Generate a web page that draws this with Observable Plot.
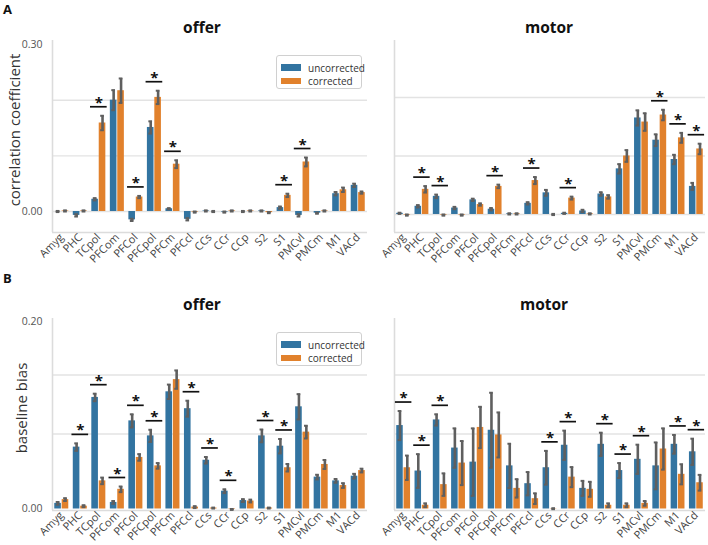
<!DOCTYPE html>
<html><head><meta charset="utf-8">
<script src="https://cdn.jsdelivr.net/npm/d3@7"></script>
<script src="https://cdn.jsdelivr.net/npm/@observablehq/plot@0.6"></script>
<style>
body{margin:0;background:#fff;font-family:"Open Sans",sans-serif;}
#root{position:relative;width:708px;height:545px;overflow:hidden;background:#fff;}
.pl{position:absolute;}
.ptitle{position:absolute;font-weight:bold;font-size:15.5px;color:#111;transform:translate(-50%,-50%);white-space:nowrap;}
.ylab{position:absolute;font-size:15px;color:#333;transform:translate(-50%,-50%) rotate(-90deg);white-space:nowrap;}
.letter{position:absolute;font-weight:bold;font-size:13px;color:#111;transform:translate(0,-50%);}
.legend{position:absolute;border:1px solid #d0d0d0;border-radius:3px;background:#fff;box-sizing:border-box;}
.legend .sw{position:absolute;width:20px;height:6.5px;}
.legend .lt{position:absolute;font-size:10px;color:#333;transform:translate(0,-50%);white-space:nowrap;}
</style></head>
<body><div id="root"></div>
<script>
// ---- data ----
const regions = ["Amyg","PHC","TCpol","PFCom","PFCol","PFCpol","PFCm","PFCcl","CCs","CCr","CCp","S2","S1","PMCvl","PMCm","M1","VACd"];
const series = ["uncorrected","corrected"];

// A: correlation coefficient, offer
const corrOfferUnc    = [0.000,-0.007,0.022,0.200,-0.015,0.151,0.005,-0.014,0.001,-0.001,0.000,0.001,0.007,-0.007,-0.003,0.032,0.047];
const corrOfferUncErr = [0.001,0.002,0.002,0.018,0.002,0.011,0.001,0.002,0.001,0.001,0.001,0.001,0.002,0.002,0.001,0.003,0.003];
const corrOfferCor    = [0.001,0.001,0.159,0.217,0.026,0.205,0.085,-0.001,0.000,0.001,0.001,-0.002,0.029,0.089,0.001,0.039,0.034];
const corrOfferCorErr = [0.001,0.001,0.013,0.022,0.002,0.012,0.007,0.001,0.001,0.001,0.001,0.001,0.003,0.008,0.001,0.004,0.002];
const sigCorrOffer = ["TCpol","PFCol","PFCpol","PFCm","S1","PMCvl"];

// A: correlation coefficient, motor
const corrMotorUnc    = [0.002,0.014,0.031,0.011,0.025,0.009,0.001,0.019,0.037,0.002,0.006,0.035,0.078,0.165,0.127,0.094,0.048];
const corrMotorUncErr = [0.001,0.002,0.003,0.002,0.002,0.002,0.001,0.002,0.005,0.001,0.002,0.003,0.008,0.013,0.010,0.008,0.006];
const corrMotorCor    = [-0.001,0.043,-0.001,-0.001,0.017,0.048,0.001,0.058,0.000,0.028,0.001,0.030,0.100,0.158,0.170,0.131,0.112];
const corrMotorCorErr = [0.001,0.0055,0.001,0.001,0.002,0.003,0.001,0.006,0.001,0.0025,0.001,0.003,0.010,0.015,0.009,0.0085,0.009];
const sigCorrMotor = ["PHC","TCpol","PFCpol","PFCcl","CCr","PMCm","M1","VACd"];

// B: baseline bias, offer
const biasOfferUnc    = [0.006,0.066,0.119,0.007,0.094,0.078,0.125,0.107,0.052,0.019,0.009,0.078,0.067,0.109,0.034,0.030,0.035];
const biasOfferUncErr = [0.0015,0.004,0.004,0.0015,0.007,0.0065,0.0077,0.0085,0.0035,0.002,0.0015,0.0068,0.0077,0.0135,0.0025,0.002,0.0025];
const biasOfferCor    = [0.010,0.003,0.030,0.021,0.055,0.046,0.138,0.002,0.001,-0.0005,0.0085,0.001,0.044,0.082,0.0475,0.025,0.041];
const biasOfferCorErr = [0.0015,0.001,0.0035,0.003,0.0035,0.003,0.0098,0.001,0.0005,0.0005,0.0015,0.0005,0.004,0.0068,0.0048,0.0025,0.002];
const sigBiasOffer = ["PHC","TCpol","PFCom","PFCol","PFCpol","PFCcl","CCs","CCr","S2","S1"];

// B: baseline bias, motor
const biasMotorUnc    = [0.089,0.0405,0.095,0.065,0.050,0.084,0.046,0.027,0.044,0.068,0.022,0.069,0.041,0.053,0.046,0.069,0.061];
const biasMotorUncErr = [0.0155,0.018,0.006,0.021,0.036,0.040,0.0236,0.0124,0.018,0.0156,0.008,0.0124,0.008,0.0156,0.025,0.010,0.014];
const biasMotorCor    = [0.044,0.004,0.026,0.049,0.087,0.079,0.022,0.011,0.0003,0.034,0.021,0.004,0.004,0.006,0.064,0.037,0.028];
const biasMotorCorErr = [0.013,0.002,0.012,0.0235,0.022,0.024,0.0098,0.0057,0.0005,0.0107,0.008,0.002,0.002,0.0025,0.022,0.0107,0.0084];
const sigBiasMotor = ["Amyg","PHC","TCpol","CCs","CCr","S2","S1","PMCvl","M1","VACd"];

// tick / grid values
const corrTicks = [0, 0.3];
const corrGrid = [0, 0.1, 0.2];
const biasTicks = [0, 0.2];
const biasGrid = [0.08, 0.143];

const colors = ["#3274a1", "#e1812c"];

// ---- drawing ----
const root = document.getElementById("root");

function panel(o) {
  const rows = [];
  regions.forEach((r, i) => {
    rows.push({i, s: series[0], v: o.unc[i], e: o.uncErr[i]});
    rows.push({i, s: series[1], v: o.cor[i], e: o.corErr[i]});
  });
  const x1 = d => d.i + (d.s === series[0] ? -0.4 : 0);
  const xc = d => d.i + (d.s === series[0] ? -0.2 : 0.2);
  const sigRows = o.sig.map(r => {
    const i = regions.indexOf(r);
    return {i, top: Math.max(o.unc[i] + o.uncErr[i], o.cor[i] + o.corErr[i], 0)};
  });
  const errColor = "#5f5f5f";
  const marks = [
    Plot.ruleY(o.grid, {stroke: "#e3e3e3", strokeWidth: 1.4}),
    Plot.ruleX([-0.5], {stroke: "#dcdcdc", strokeWidth: 1.6}),
    Plot.ruleY([o.domain[0]], {stroke: "#dcdcdc", strokeWidth: 1.6}),
    Plot.rectY(rows, {x1, x2: d => x1(d) + 0.4, y1: 0, y2: "v", fill: "s", insetLeft: 0.4, insetRight: 0.4}),
    Plot.ruleX(rows, {x: xc, y1: d => d.v - d.e, y2: d => d.v + d.e, stroke: errColor, strokeWidth: 2.6}),
    Plot.ruleY(rows, {y: d => d.v + d.e, x1: d => xc(d) - 0.1, x2: d => xc(d) + 0.1, stroke: errColor, strokeWidth: 2}),
    Plot.ruleY(rows, {y: d => d.v - d.e, x1: d => xc(d) - 0.1, x2: d => xc(d) + 0.1, stroke: errColor, strokeWidth: 2}),
    Plot.ruleY(sigRows, {y: "top", x1: d => d.i - 0.45, x2: d => d.i + 0.45, dy: -9, stroke: "#111", strokeWidth: 1.7}),
    Plot.text(sigRows, {x: "i", y: "top", text: () => "*", dy: -8, fontSize: 15, fontWeight: "bold", fill: "#111", lineAnchor: "bottom"}),
    Plot.axisX({ticks: d3.range(regions.length), tickFormat: i => regions[i], tickRotate: -45, tickSize: 0, tickPadding: 3, fontSize: 11, label: null, fill: "#444"})
  ];
  if (o.yticks) marks.push(Plot.axisY(o.yticks, {tickFormat: ".2f", tickSize: 0, tickPadding: 10, fontSize: 10.5, label: null, fill: "#555"}));
  const chart = Plot.plot({
    width: o.width, height: o.height,
    marginLeft: o.mL, marginRight: o.mR, marginTop: o.mT, marginBottom: o.mB,
    x: {type: "linear", domain: [-0.5, regions.length - 0.5]},
    y: {domain: o.domain, axis: o.yticks ? undefined : null},
    color: {domain: series, range: colors},
    style: {fontFamily: "Open Sans, sans-serif", color: "#444", background: "transparent", overflow: "visible"},
    marks
  });
  chart.classList.add("pl");
  chart.style.left = o.left + "px";
  chart.style.top = o.top + "px";
  root.appendChild(chart);
}

panel({unc: corrOfferUnc, uncErr: corrOfferUncErr, cor: corrOfferCor, corErr: corrOfferCorErr, sig: sigCorrOffer,
  domain: [-0.0377, 0.3072], grid: corrGrid, yticks: corrTicks,
  left: 0, top: 30, width: 372, height: 245, mL: 52, mR: 5, mT: 10, mB: 43});
panel({unc: corrMotorUnc, uncErr: corrMotorUncErr, cor: corrMotorCor, corErr: corrMotorCorErr, sig: sigCorrMotor,
  domain: [-0.0308, 0.2974], grid: corrGrid, yticks: null,
  left: 352, top: 30, width: 356, height: 245, mL: 42, mR: 3, mT: 10, mB: 43});
panel({unc: biasOfferUnc, uncErr: biasOfferUncErr, cor: biasOfferCor, corErr: biasOfferCorErr, sig: sigBiasOffer,
  domain: [-0.0016, 0.2032], grid: biasGrid, yticks: biasTicks,
  left: 0, top: 308, width: 372, height: 237, mL: 52, mR: 5, mT: 10, mB: 35});
panel({unc: biasMotorUnc, uncErr: biasMotorUncErr, cor: biasMotorCor, corErr: biasMotorCorErr, sig: sigBiasMotor,
  domain: [-0.0016, 0.2032], grid: biasGrid, yticks: null,
  left: 352, top: 308, width: 356, height: 237, mL: 42, mR: 3, mT: 10, mB: 35});

function addText(cls, txt, x, y) {
  const d = document.createElement("div");
  d.className = cls; d.textContent = txt;
  d.style.left = x + "px"; d.style.top = y + "px";
  root.appendChild(d);
}
addText("letter", "A", 3, 9);
addText("letter", "B", 3, 278);
addText("ptitle", "offer", 202, 27);
addText("ptitle", "motor", 549, 27);
addText("ptitle", "offer", 202, 304);
addText("ptitle", "motor", 544, 304);
addText("ylab", "correlation coefficient", 14, 130);
addText("ylab", "baseline bias", 21, 408);

function legend(x, y) {
  const box = document.createElement("div");
  box.className = "legend";
  box.style.left = x + "px"; box.style.top = y + "px";
  box.style.width = "86px"; box.style.height = "34px";
  series.forEach((s, k) => {
    const sw = document.createElement("div");
    sw.className = "sw"; sw.style.background = colors[k];
    sw.style.left = "4px"; sw.style.top = (8 + k * 13.5) + "px";
    box.appendChild(sw);
    const t = document.createElement("div");
    t.className = "lt"; t.textContent = s;
    t.style.left = "31px"; t.style.top = (11.5 + k * 13.5) + "px";
    box.appendChild(t);
  });
  root.appendChild(box);
}
legend(276, 55);
legend(276, 332);
</script>
</body></html>
